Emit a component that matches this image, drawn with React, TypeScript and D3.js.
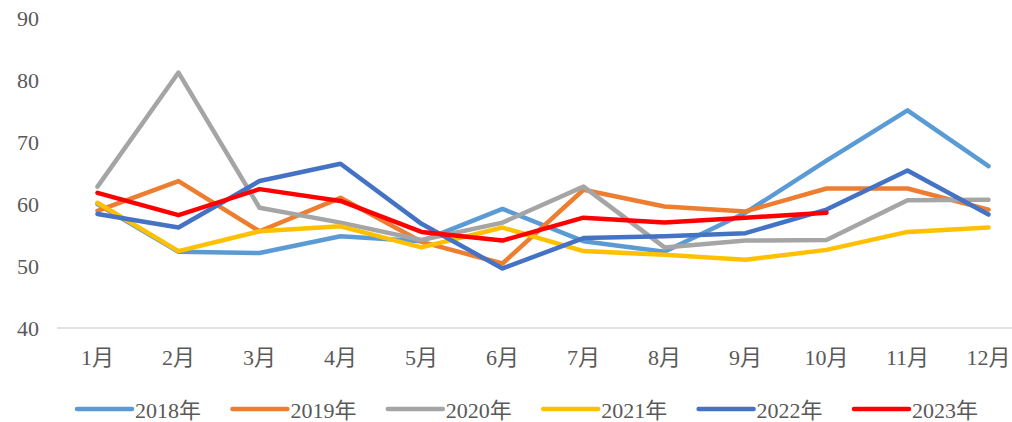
import React from 'react';
import * as d3 from 'd3';

const months = ['1月', '2月', '3月', '4月', '5月', '6月', '7月', '8月', '9月', '10月', '11月', '12月'];
const yTicks = [40, 50, 60, 70, 80, 90];

const s2018 = [60.0, 52.3, 52.1, 54.8, 54.0, 59.2, 54.0, 52.3, 58.6, 67.0, 75.1, 66.1];
const s2019 = [58.9, 63.7, 55.6, 61.0, 53.9, 50.4, 62.3, 59.6, 58.8, 62.5, 62.5, 59.1];
const s2020 = [62.8, 81.2, 59.4, 57.0, 54.2, 57.0, 62.8, 53.0, 54.1, 54.2, 60.6, 60.7];
const s2021 = [60.2, 52.4, 55.6, 56.4, 53.0, 56.2, 52.4, 51.8, 51.0, 52.6, 55.5, 56.2];
const s2022 = [58.4, 56.2, 63.7, 66.5, 56.8, 49.6, 54.5, 54.8, 55.3, 59.1, 65.4, 58.3];
const s2023 = [61.8, 58.2, 62.4, 60.5, 55.5, 54.1, 57.8, 57.0, 57.8, 58.6];

const seriesNames = ['2018年', '2019年', '2020年', '2021年', '2022年', '2023年'];
const seriesValues = [s2018, s2019, s2020, s2021, s2022, s2023];
const colors = ['#5B9BD5', '#ED7D31', '#A5A5A5', '#FFC000', '#4472C4', '#FF0000'];

const width = 1012;
const height = 422;
const font = '"Liberation Serif", "DejaVu Serif", "Noto Sans CJK SC", serif';

const App = () => {
  const x = d3.scaleBand<string>().domain(months).range([57, 1029]);
  const y = d3.scaleLinear().domain([40, 90]).range([328, 18]);
  const cx = (m: string) => (x(m) as number) + x.bandwidth() / 2;

  const line = d3.line<number>()
    .x((_, i) => cx(months[i]))
    .y(d => y(d));

  return (
    <svg width={width} height={height} style={{ position: 'absolute', left: 0, top: 0, background: '#fff' }}>
      <line x1={57} x2={width} y1={y(40)} y2={y(40)} stroke="#D9D9D9" strokeWidth={1.5} />
      {yTicks.map(t => (
        <text key={t} x={39} y={y(t)} dy="0.35em" textAnchor="end" fontFamily={font} fontSize={22} fill="#595959">{t}</text>
      ))}
      {months.map(m => (
        <text key={m} x={cx(m)} y={357} dy="0.35em" textAnchor="middle" fontFamily={font} fontSize={22} fill="#595959">{m}</text>
      ))}
      {seriesValues.map((vals, i) => (
        <path key={seriesNames[i]} d={line(vals) || ''} fill="none" stroke={colors[i]} strokeWidth={4.5}
          strokeLinecap="round" strokeLinejoin="round" />
      ))}
      {seriesNames.map((name, i) => {
        const lx = 77 + i * 155.4;
        return (
          <g key={name}>
            <line x1={lx} x2={lx + 55} y1={409} y2={409} stroke={colors[i]} strokeWidth={4.5} strokeLinecap="round" />
            <text x={lx + 58} y={410} dy="0.35em" fontFamily={font} fontSize={22} fill="#595959">{name}</text>
          </g>
        );
      })}
    </svg>
  );
};

export default App;
